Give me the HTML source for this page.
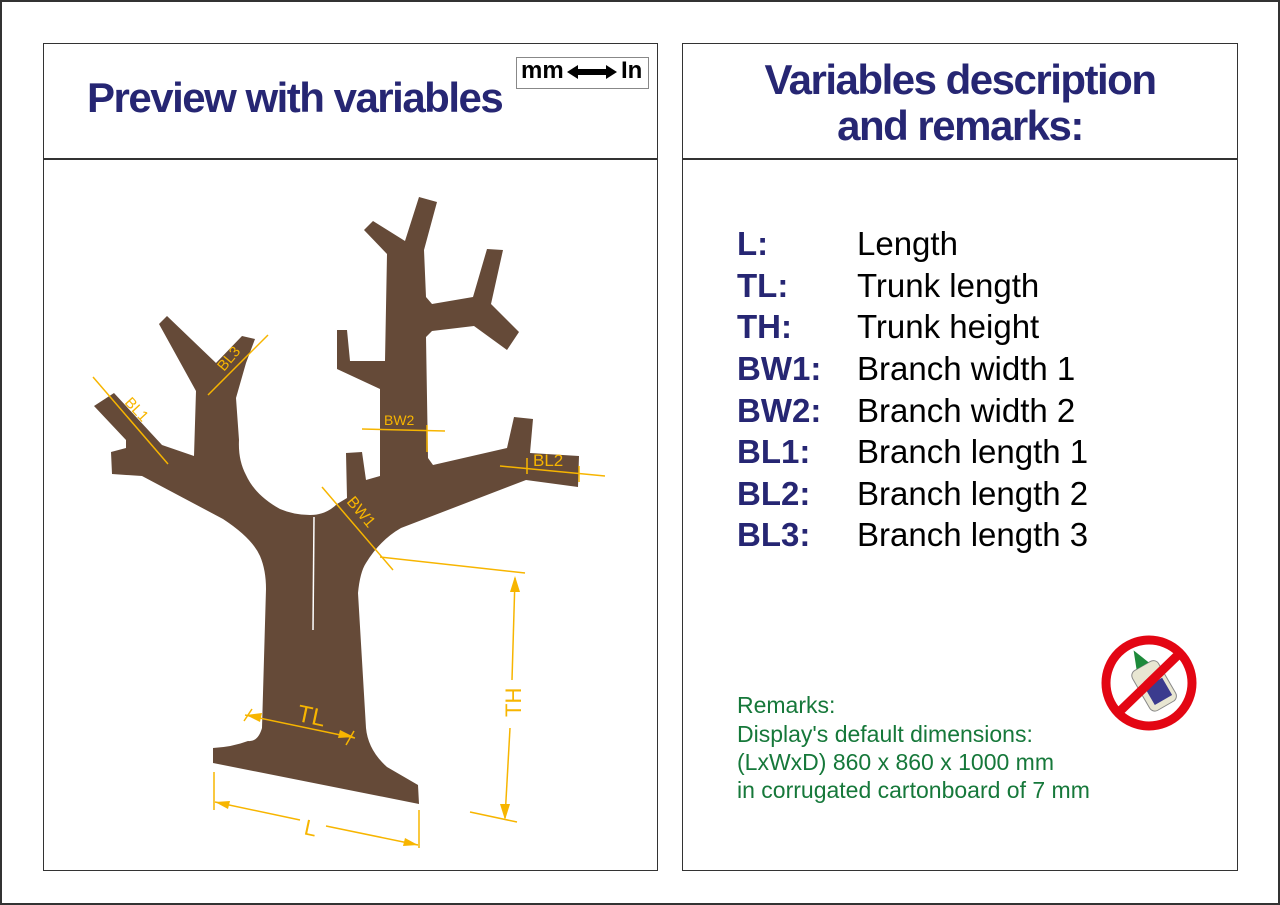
<!DOCTYPE html>
<html><head><meta charset="utf-8"><style>
body{margin:0;width:1280px;height:905px;background:#fff;overflow:hidden;position:relative;font-family:"Liberation Sans",sans-serif}
.p{position:absolute;border:1.5px solid #333;box-sizing:border-box}
.t{position:absolute;white-space:nowrap}
.h{color:#262673;font-weight:bold;font-size:42px;letter-spacing:-1.5px}
.lab{position:absolute;left:737px;font-size:33px;font-weight:bold;color:#262673}
.des{position:absolute;left:857px;font-size:33px;color:#000}
.rem{position:absolute;left:737px;font-size:23px;color:#16783a}
</style></head><body>
<div class="p" style="left:0;top:0;width:1280px;height:905px;border-width:2px"></div>
<div class="p" style="left:43px;top:43px;width:615px;height:828px"></div>
<div style="position:absolute;left:43px;top:158px;width:615px;height:1.5px;background:#333"></div>
<div class="p" style="left:682px;top:43px;width:556px;height:828px"></div>
<div style="position:absolute;left:682px;top:158px;width:556px;height:1.5px;background:#333"></div>

<div class="t h" style="left:87px;top:74px">Preview with variables</div>
<div class="t h" style="left:682px;width:556px;text-align:center;top:57px;line-height:46px;white-space:normal">Variables description<br>and remarks:</div>

<div class="p" style="left:516px;top:57px;width:133px;height:32px;border:1px solid #888"></div>
<div class="t" style="left:521px;top:57px;font-size:24px;font-weight:bold">mm</div>
<div class="t" style="left:621px;top:57px;font-size:24px;font-weight:bold">In</div>
<svg style="position:absolute;left:0;top:0" width="1280" height="905">
<path d="M567 72 L578 65 L578 69 L606 69 L606 65 L617 72 L606 79 L606 75 L578 75 L578 79Z" fill="#000"/>
<path fill="#654a38" d="M213 763 L419 804 L418 785 L387 767 Q368 750 366 728 L358 593 Q360 572 366 563 Q380 540 401 528 L526 480 L578 487 L579 456 L530 453 L533 419 L514 417 L507 448 L433 465 L428 458 L426 337 L432 331 L474 326 L507 350 L519 332 L491 304 L503 250 L487 249 L473 297 L432 304 L426 297 L424 250 L437 202 L419 197 L405 241 L373 221 L364 230 L387 254 L385 361 L350 361 L347 330 L337 330 L337 369 L380 389 L380 476 L366 480 L362 452 L346 453 L347 498 L337 504 Q326 515 310 515 Q294 515 280 509 Q255 495 246 475 Q238 460 239 440 L236 398 L246 363 L255 339 L242 336 L216 363 L167 316 L159 324 L196 391 L194 456 L162 445 L114 393 L94 406 L126 440 L126 448 L111 452 L112 474 L142 476 L223 519 Q252 538 260 556 Q266 570 266 589 L262 728 Q258 742 248 741 Q232 747 213 748Z"/>
<line x1="314" y1="517" x2="313" y2="630" stroke="#fff" stroke-width="1.5"/>
<g stroke="#f7b500" stroke-width="1.5" fill="none">
<line x1="93" y1="377" x2="168" y2="464"/>
<line x1="208" y1="395" x2="268" y2="335"/>
<line x1="362" y1="429" x2="445" y2="431"/><line x1="427" y1="425" x2="427" y2="452"/>
<line x1="500" y1="466" x2="605" y2="476"/><line x1="527" y1="458" x2="527" y2="474"/><line x1="579" y1="466" x2="579" y2="482"/>
<line x1="322" y1="487" x2="393" y2="570"/>
<line x1="380" y1="557" x2="525" y2="573"/><line x1="470" y1="812" x2="517" y2="822"/>
<line x1="515" y1="578" x2="512" y2="680"/><line x1="510" y1="728" x2="505" y2="818"/>
<line x1="245" y1="715" x2="355" y2="738"/><line x1="252" y1="709" x2="244" y2="721"/><line x1="354" y1="731" x2="346" y2="745"/>
<line x1="214" y1="772" x2="214" y2="810"/><line x1="419" y1="810" x2="419" y2="848"/>
<line x1="215" y1="802" x2="300" y2="820"/><line x1="326" y1="826" x2="418" y2="845"/>
</g>
<g fill="#f7b500">
<path d="M515 576 L510 592 L520 592Z"/><path d="M505 820 L500 804 L510 804Z"/>
<path d="M246 715 L262 713 L260 722Z"/><path d="M354 737 L338 738 L340 730Z"/>
<path d="M215 802 L230 801 L228 809Z"/><path d="M418 845 L403 846 L405 838Z"/>
</g>
<g fill="#f7b500" font-family="Liberation Sans" >
<text x="298" y="721" font-size="24" transform="rotate(12 298 712)">TL</text>
<text x="305" y="836" font-size="22" transform="rotate(12 313 826)">L</text>
<text x="0" y="0" font-size="22" transform="translate(521 717) rotate(-90)">TH</text>
<text x="384" y="425" font-size="14">BW2</text>
<text x="533" y="466" font-size="17">BL2</text>
<text x="0" y="0" font-size="16" transform="translate(346 502) rotate(50)">BW1</text>
<text x="0" y="0" font-size="15" transform="translate(124 403) rotate(47)">BL1</text>
<text x="0" y="0" font-size="15" transform="translate(224 372) rotate(-50)">BL3</text>
</g>
<g transform="translate(1149 683)">
<circle r="43" fill="#fff" stroke="#e30613" stroke-width="9"/>
<g transform="rotate(-30)"><rect x="-12" y="-18" width="30" height="46" rx="6" fill="#e8e6d2" stroke="#888"/><path d="M-4 -18 L3 -36 L10 -18Z" fill="#1d8a3a"/><rect x="-6" y="2" width="20" height="20" fill="#3b3b8e"/></g>
<line x1="-31" y1="30" x2="31" y2="-30" stroke="#e30613" stroke-width="9"/>
</g>
</svg>

<div class="lab" style="top:225px">L:</div><div class="des" style="top:225px">Length</div>
<div class="lab" style="top:267px">TL:</div><div class="des" style="top:267px">Trunk length</div>
<div class="lab" style="top:308px">TH:</div><div class="des" style="top:308px">Trunk height</div>
<div class="lab" style="top:350px">BW1:</div><div class="des" style="top:350px">Branch width 1</div>
<div class="lab" style="top:392px">BW2:</div><div class="des" style="top:392px">Branch width 2</div>
<div class="lab" style="top:433px">BL1:</div><div class="des" style="top:433px">Branch length 1</div>
<div class="lab" style="top:475px">BL2:</div><div class="des" style="top:475px">Branch length 2</div>
<div class="lab" style="top:516px">BL3:</div><div class="des" style="top:516px">Branch length 3</div>

<div class="rem" style="top:692px">Remarks:</div>
<div class="rem" style="top:721px">Display's default dimensions:</div>
<div class="rem" style="top:749px">(LxWxD) 860 x 860 x 1000 mm</div>
<div class="rem" style="top:777px">in corrugated cartonboard of 7 mm</div>
</body></html>
